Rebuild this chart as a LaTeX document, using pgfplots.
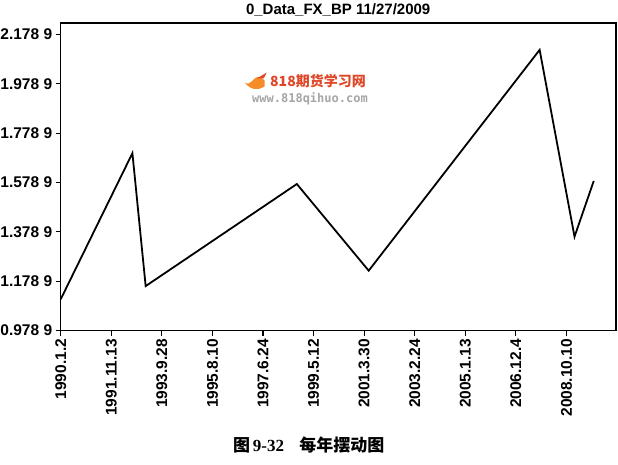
\documentclass[border=0pt]{standalone}
\usepackage{fontspec}
\setmainfont{Liberation Sans}
\newfontfamily\cjk{Noto Sans CJK SC}
\newfontfamily\serifb{Liberation Serif}
\newfontfamily\wwwfont{DejaVu Sans Mono}
\usepackage{pgfplots}
\pgfplotsset{compat=1.18}
\definecolor{wmred}{RGB}{222,72,40}
\definecolor{wmorange}{RGB}{245,140,40}
\definecolor{wmgray}{RGB}{165,165,165}

\begin{document}
\begin{tikzpicture}[x=1pt,y=1pt]
\path[use as bounding box] (-60.7,-133.5) rectangle (557.3,330.5);
\begin{axis}[
    at={(0,0)}, anchor=south west,
    scale only axis,
    width=555.3pt, height=307.5pt,
    xmin=0, xmax=10.98,
    ymin=0.9789, ymax=2.226,
    axis line style={line width=1.3pt},
    tick align=outside,
    xtick pos=left, ytick pos=left,
    major tick length=5pt,
    tick style={line width=1.1pt, black},
    xtick={0,1,2,3,4,5,6,7,8,9,10},
    xticklabels={1990.1.2, 1991.11.13, 1993.9.28, 1995.8.10, 1997.6.24, 1999.5.12, 2001.3.30, 2003.2.24, 2005.1.13, 2006.12.4, 2008.10.10},
    x tick label style={rotate=90, anchor=east},
    ytick={0.9789,1.1789,1.3789,1.5789,1.7789,1.9789,2.1789},
    yticklabels={0.978 9, 1.178 9, 1.378 9, 1.578 9, 1.778 9, 1.978 9, 2.178 9},
    ticklabel style={font=\fontsize{15.5}{15.5}\selectfont\bfseries},
]
\addplot[black, line width=1.8pt, no marks, sharp plot] coordinates {
    (0,1.1055) (1.418,1.698) (1.68,1.159) (4.669,1.573)
    (6.09,1.2215) (9.47,2.117) (10.16,1.3595) (10.54,1.5855)
};
\end{axis}
% title
\node[font=\fontsize{15}{15}\selectfont\bfseries] at (277.5,320.5) {0\_Data\_FX\_BP 11/27/2009};
% watermark
\fill[wmorange] (184,248) .. controls (190,240) and (198,240) .. (204,244)
    -- (204,250) .. controls (200,254) and (196,255) .. (193,251)
    .. controls (190,247) and (186,246) .. cycle;
\fill[wmred] (196,252) -- (206,258) -- (203,252) -- cycle;
\node[font=\cjk\bfseries\fontsize{14}{14}\selectfont, text=wmred] at (257.3,249.5) {818期货学习网};
\node[font=\wwwfont\bfseries\fontsize{12}{12}\selectfont, text=wmgray] at (249.3,231.5) {www.818qihuo.com};
% caption
\node[font=\fontsize{17}{17}\selectfont] at (248,-114.5)
    {{\cjk\bfseries 图}\,{\serifb\bfseries 9-32}\hspace{0.9em}{\cjk\bfseries 每年摆动图}};
\end{tikzpicture}
\end{document}
